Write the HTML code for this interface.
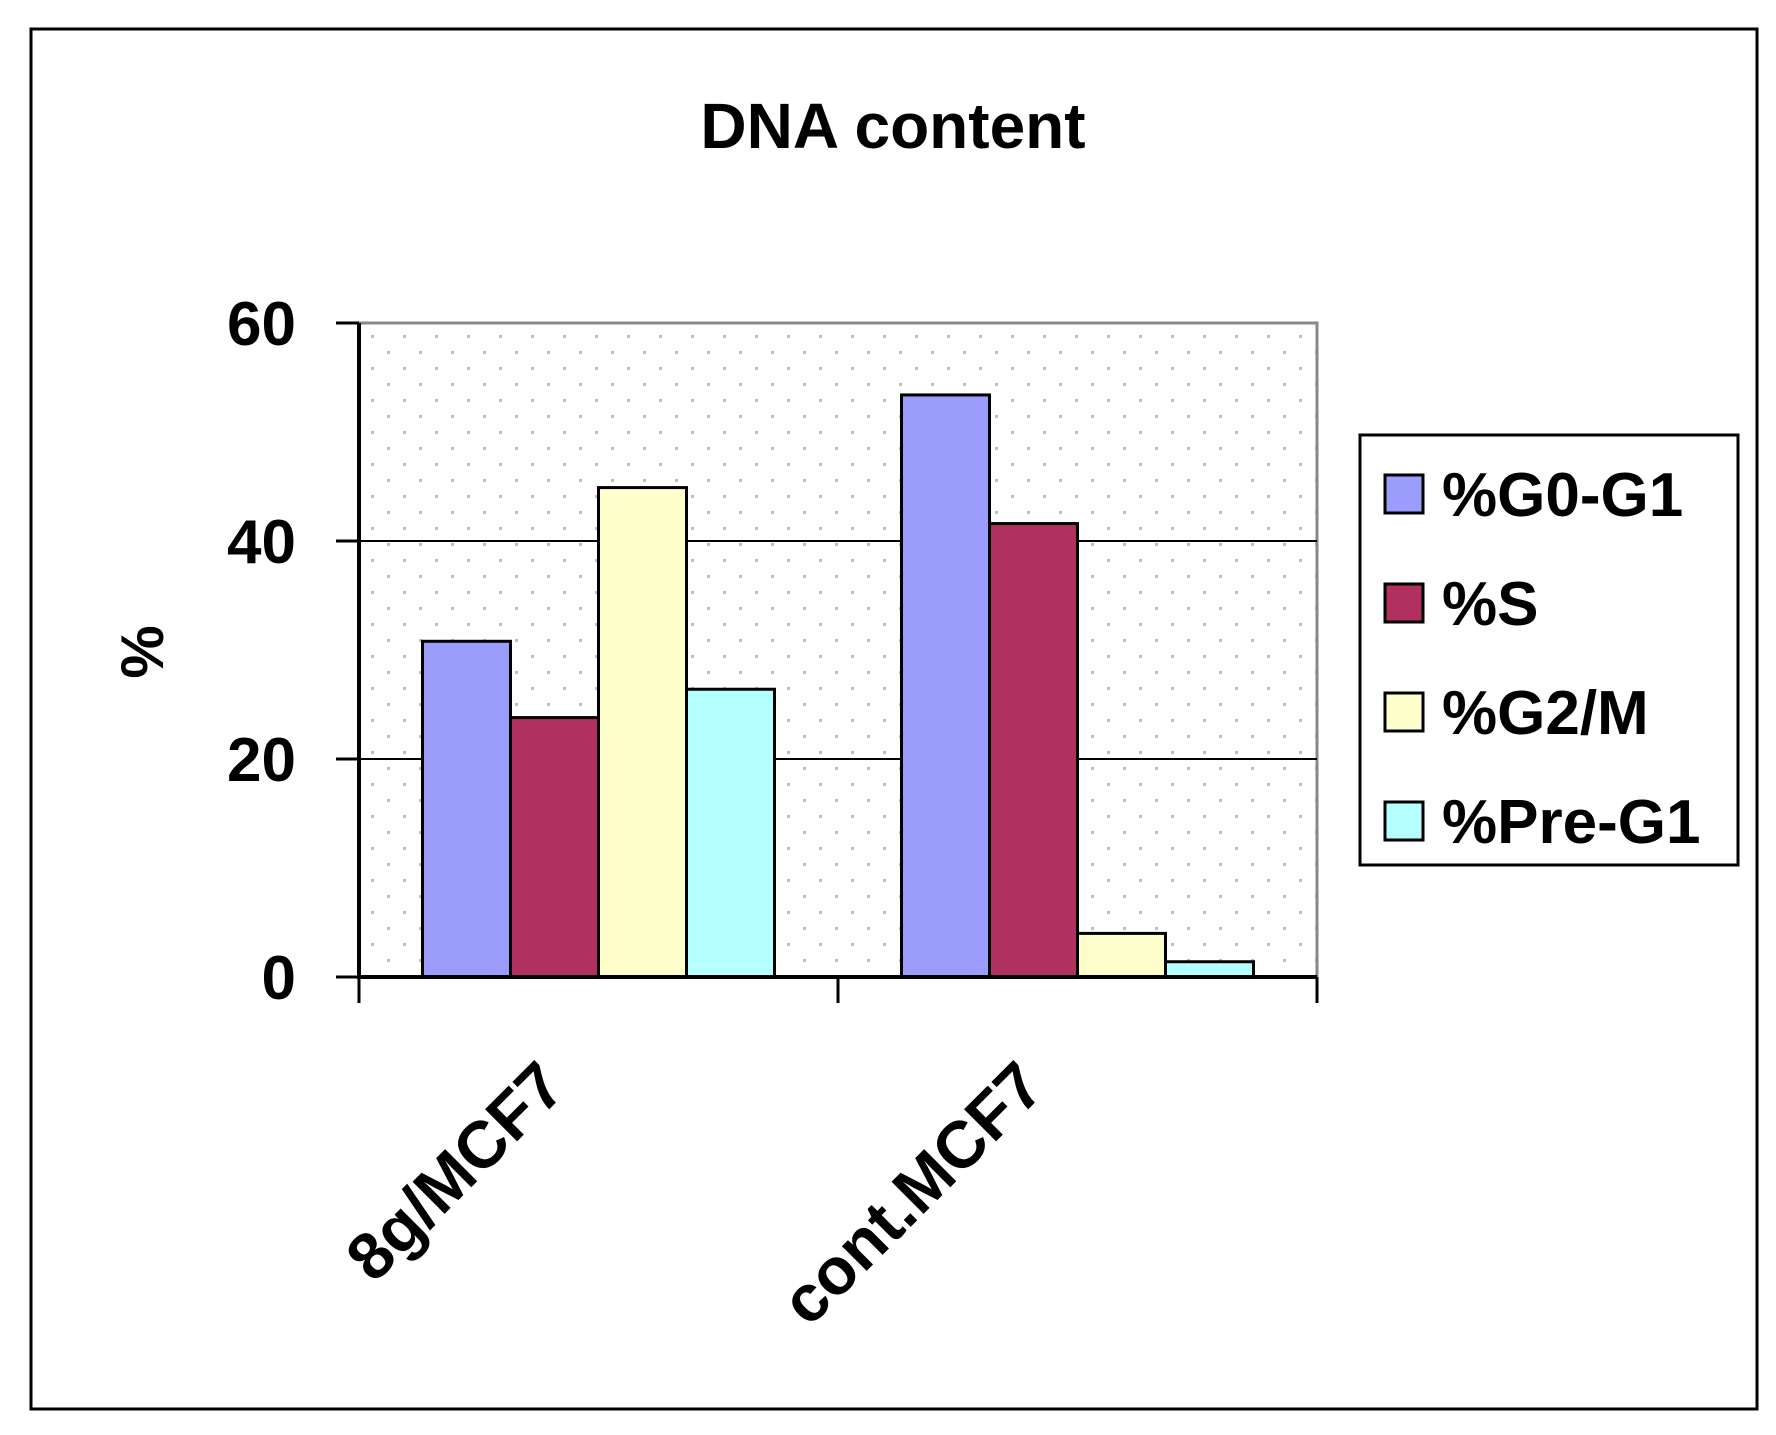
<!DOCTYPE html>
<html><head><meta charset="utf-8"><style>
body{margin:0;background:#fff}
svg text{font-family:"Liberation Sans","DejaVu Sans",sans-serif;font-weight:bold;fill:#000}
</style></head><body>
<svg width="1776" height="1430" viewBox="0 0 1776 1430">
<defs><pattern id="dots" x="361" y="323" width="32" height="32" patternUnits="userSpaceOnUse">
<rect x="10" y="12" width="3" height="3" fill="#c0c0c0"/><rect x="26" y="28" width="3" height="3" fill="#c0c0c0"/></pattern></defs>
<rect x="31" y="29" width="1726" height="1380" fill="#fff" stroke="#000" stroke-width="3"/>
<text x="893" y="148" font-size="64" text-anchor="middle">DNA content</text>
<rect x="359" y="323" width="958" height="654" fill="#fff"/>
<rect x="359" y="323" width="958" height="654" fill="url(#dots)" stroke="#888" stroke-width="3"/>
<g id="grid"></g><g id="bars"></g><g id="axes"></g>
<text transform="translate(163,652) rotate(-90)" font-size="60" text-anchor="middle">%</text>
<rect x="1360" y="435" width="378" height="430" fill="#fff" stroke="#000" stroke-width="3"/>
<g id="legend"></g>
</svg>
<script>
const categories=["8g/MCF7","cont.MCF7"];
const seriesNames=["%G0-G1","%S","%G2/M","%Pre-G1"];
const g0g1=[30.8,53.4];
const sPhase=[23.8,41.6];
const g2m=[44.9,4.0];
const preG1=[26.4,1.4];
const yTicks=[0,20,40,60];
const fills=["#9c9cfc","#b03060","#ffffcc","#b4ffff"];
const series=[g0g1,sPhase,g2m,preG1];
const NS="http://www.w3.org/2000/svg";
const x0=359,x1=1317,y0=977,y1=323;
const y=v=>y0-(v-0)/(60-0)*(y0-y1);
const catW=(x1-x0)/categories.length;
const barW=88;
function mk(t,a,p){const e=document.createElementNS(NS,t);for(const k in a)e.setAttribute(k,a[k]);p.appendChild(e);return e;}
const grid=document.getElementById('grid'),bars=document.getElementById('bars'),axes=document.getElementById('axes'),leg=document.getElementById('legend');
yTicks.forEach(t=>{
 if(t>0&&t<60){const l=mk('line',{x1:x0,x2:x1,y1:y(t),y2:y(t),stroke:'#000','stroke-width':2},grid);
 
 }
 const tk=mk('line',{x1:336,x2:x0,y1:y(t),y2:y(t),stroke:'#000','stroke-width':3},axes);
 
 
 const tx=mk('text',{x:296,y:y(t)+22,'font-size':62,'text-anchor':'end'},axes);tx.textContent=t;
 
 
});
categories.forEach((c,ci)=>{
 const start=x0+ci*catW+(catW-barW*4)/2;
 series.forEach((s,si)=>{
  const r=mk('rect',{x:start+si*barW,y:y(s[ci]),width:barW,height:y0-y(s[ci]),fill:fills[si],stroke:'#000','stroke-width':3},bars);
  
  
 });
 const cx=x0+(ci+0.5)*catW;
 const tx=mk('text',{transform:`translate(${cx-30},1090) rotate(-45)`,'font-size':66,'text-anchor':'end'},axes);tx.textContent=c;
 
 
});
mk('line',{x1:x0,x2:x0,y1:y1,y2:y0+2,stroke:'#000','stroke-width':4},axes);
mk('line',{x1:x0,x2:x1,y1:y0,y2:y0,stroke:'#000','stroke-width':4},axes);
for(let i=0;i<=categories.length;i++){const xx=x0+i*catW;mk('line',{x1:xx,x2:xx,y1:y0,y2:1003,stroke:'#000','stroke-width':3},axes);}
seriesNames.forEach((n,i)=>{
 const cy=494+i*109;
 const r=mk('rect',{x:1385,y:cy-19,width:38,height:38,fill:fills[i],stroke:'#000','stroke-width':3},leg);
 
 
 const t=mk('text',{x:1442,y:cy+22,'font-size':62},leg);t.textContent=n;
 
 
});
</script>
</body></html>
